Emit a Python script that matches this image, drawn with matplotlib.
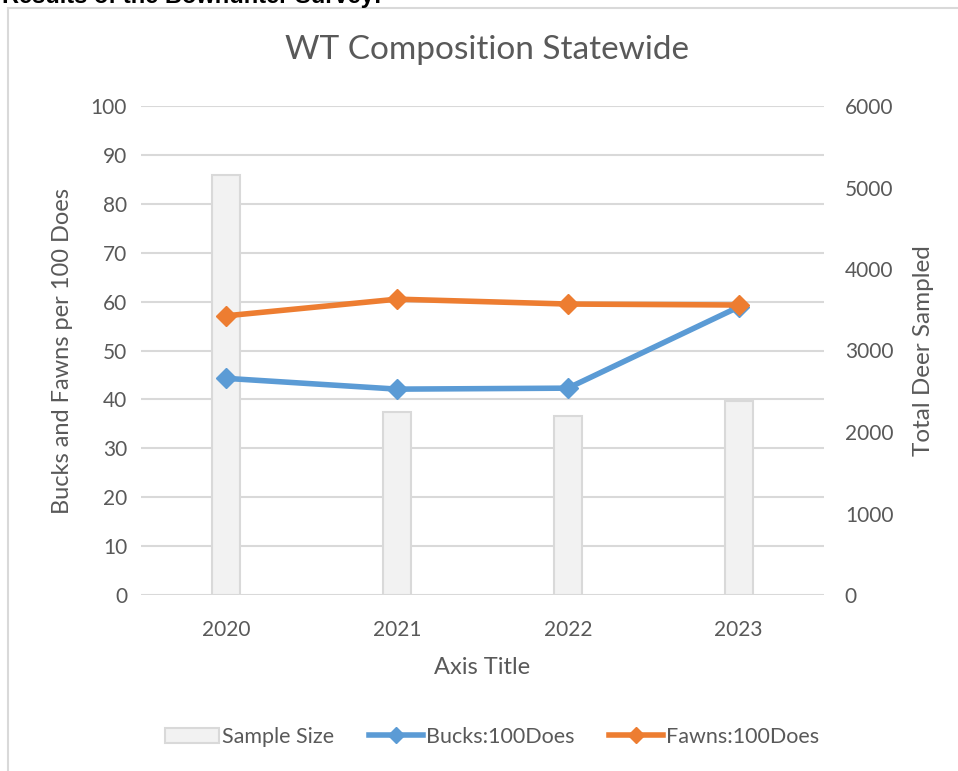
import numpy as np
import matplotlib.pyplot as plt
from matplotlib.patches import Rectangle

years = ["2020", "2021", "2022", "2023"]
sample_size = [5150, 2245, 2195, 2380]
bucks = [44.3, 42.1, 42.3, 58.9]
fawns = [57.1, 60.5, 59.5, 59.3]

plt.rcParams['font.family'] = ['Lato', 'DejaVu Sans']
txt = "#595959"
grid = "#d9d9d9"

fig = plt.figure(figsize=(9.58, 7.71), dpi=100)
ax = fig.add_axes([141/958, 1-595/771, (824-141)/958, (595-106)/771])
ax2 = ax.twinx()

x = np.arange(len(years))
# bars on the secondary axis, drawn behind lines
ax2.bar(x, sample_size, width=0.165, color="#f2f2f2", edgecolor=grid, linewidth=1.5, zorder=1)
ax2.set_ylim(0, 6000)
ax2.set_yticks(range(0, 6001, 1000))

ax.set_zorder(ax2.get_zorder() + 1)
ax.patch.set_visible(False)
ax.plot(x, bucks, color="#5b9bd5", lw=4, marker="D", ms=10, zorder=3)
ax.plot(x, fawns, color="#ed7d31", lw=4, marker="D", ms=10, zorder=3)
ax.set_ylim(0, 100)
ax.set_yticks(range(0, 101, 10))
ax.set_xlim(-0.5, 3.5)
ax.set_xticks(x)
ax.set_xticklabels(years)

# gridlines on the back axis so they sit behind bars
for v in range(0, 101, 10):
    ax2.axhline(v * 60, color=grid, lw=1.5, zorder=0)

for a in (ax, ax2):
    for s in a.spines.values():
        s.set_visible(False)
    a.tick_params(length=0, labelsize=15, colors=txt)
ax.tick_params(axis="y", pad=10)
ax.tick_params(axis="x", pad=18)
ax2.tick_params(axis="y", pad=15)

ax.set_ylabel("Bucks and Fawns per 100 Does", fontsize=17, color=txt, labelpad=13)
ax2.set_ylabel("Total Deer Sampled", fontsize=17.5, color=txt, labelpad=14)
ax.set_xlabel("Axis Title", fontsize=17, color=txt, labelpad=12)
fig.text(487/958, 1-50/771, "WT Composition Statewide", ha="center", va="center",
         fontsize=24, color=txt)

# legend
h_bar = Rectangle((0, 0), 1, 1, facecolor="#f2f2f2", edgecolor=grid, lw=1.5)
h_b, = ax.plot([], [], color="#5b9bd5", lw=4, marker="D", ms=8)
h_f, = ax.plot([], [], color="#ed7d31", lw=4, marker="D", ms=8)
fig.legend([h_bar, h_b, h_f], ["Sample Size", "Bucks:100Does", "Fawns:100Does"],
           loc="center", bbox_to_anchor=(492/958, 1-737/771), ncol=3, frameon=False,
           fontsize=15.5, labelcolor=txt, handlelength=2.5, handletextpad=0.15,
           columnspacing=1.6)

# chart border and cut-off heading
fig.patches.append(Rectangle((8/958, -0.05), 1.1, 1-8/771+0.05, transform=fig.transFigure,
                             fill=False, edgecolor=grid, lw=1.5))
fig.text(2/958, 1+4/771, "Results of the Bowhunter Survey:", ha="left", va="center",
         fontsize=17, fontweight="bold", color="black", family="Liberation Sans")

fig.savefig("out.png", dpi=100)
